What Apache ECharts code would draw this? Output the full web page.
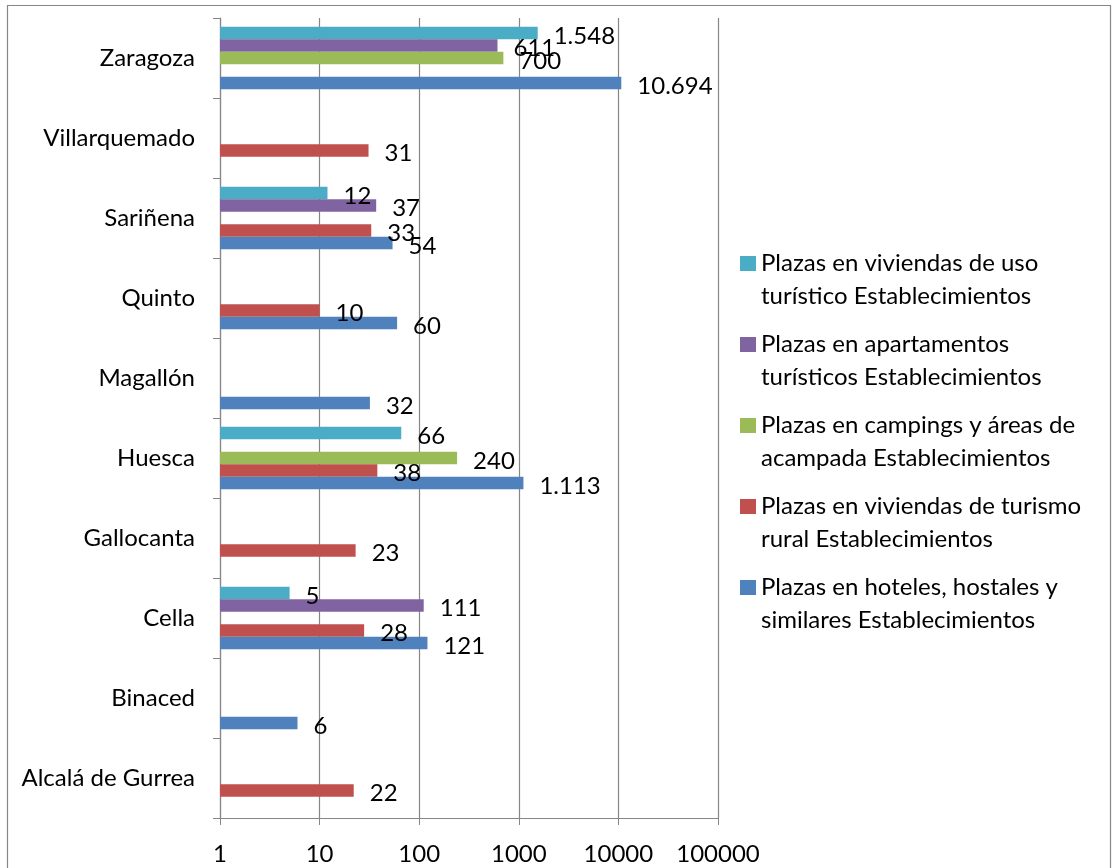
<!DOCTYPE html>
<html>
<head>
<meta charset="utf-8">
<script src="https://cdn.jsdelivr.net/npm/echarts@6/dist/echarts.min.js"></script>
<style>
html,body{margin:0;padding:0;background:#fff;}
#chart{width:1113px;height:868px;}
</style>
</head>
<body>
<div id="chart"></div>
<script>
const categories = ['Alcalá de Gurrea','Binaced','Cella','Gallocanta','Huesca','Magallón','Quinto','Sariñena','Villarquemado','Zaragoza'];
const seriesNames = [
  'Plazas en viviendas de uso turístico Establecimientos',
  'Plazas en apartamentos turísticos Establecimientos',
  'Plazas en campings y áreas de acampada Establecimientos',
  'Plazas en viviendas de turismo rural Establecimientos',
  'Plazas en hoteles, hostales y similares Establecimientos'
];
const legendLines = [
  'Plazas en viviendas de uso\nturístico Establecimientos',
  'Plazas en apartamentos\nturísticos Establecimientos',
  'Plazas en campings y áreas de\nacampada Establecimientos',
  'Plazas en viviendas de turismo\nrural Establecimientos',
  'Plazas en hoteles, hostales y\nsimilares Establecimientos'
];
const viviendas    = [null, null, 5, null, 66, null, null, 12, null, 1548];
const apartamentos = [null, null, 111, null, null, null, null, 37, null, 611];
const campings     = [null, null, null, null, 240, null, null, null, null, 700];
const rural        = [22, null, 28, 23, 38, null, 10, 33, 31, null];
const hoteles      = [null, 6, 121, null, 1113, 32, 60, 54, null, 10694];
const xTickLabels = ['1','10','100','1000','10000','100000'];

const seriesData = [viviendas, apartamentos, campings, rural, hoteles];
const colors = ['#4BACC6','#8064A2','#9BBB59','#C0504D','#4F81BD'];
const FONT = 'Lato';
const FS = 24;

function fmtEs(v){
  const s = String(Math.round(v));
  return s.replace(/\B(?=(\d{3})+(?!\d))/g, '.');
}

const chart = echarts.init(document.getElementById('chart'));
chart.setOption({
  animation:false,
  textStyle:{fontFamily:FONT},
  graphic:[{type:'rect', shape:{x:7.5,y:5.5,width:1103,height:900}, style:{fill:'none',stroke:'#868686',lineWidth:1.2}, silent:true}],
  grid:{left:220, top:18, width:498, height:800},
  legend:{
    orient:'vertical', left:740, top:214, padding:0,
    data:seriesNames.slice(),
    itemWidth:16, itemHeight:15, itemGap:-18,
    icon:'rect',
    formatter:function(name){ return '\n' + legendLines[seriesNames.indexOf(name)]; },
    textStyle:{fontFamily:FONT, fontSize:FS, color:'#000', lineHeight:33}
  },
  xAxis:{
    type:'log', logBase:10, min:1, max:100000, interval:1,
    axisLine:{show:true, lineStyle:{color:'#868686', width:1.2}},
    axisTick:{show:true, length:7, lineStyle:{color:'#868686'}},
    splitLine:{show:true, lineStyle:{color:'#868686', width:1.2}},
    axisLabel:{margin:24, fontSize:FS, color:'#000', fontFamily:FONT,
      formatter:function(v){ const i = Math.round(Math.log10(v)); return xTickLabels[i] || ''; }}
  },
  yAxis:{
    type:'category', data:categories,
    axisLine:{show:true, lineStyle:{color:'#868686', width:1.2}},
    axisTick:{show:true, length:7, interval:0, lineStyle:{color:'#868686'}},
    axisLabel:{margin:25, fontSize:FS, color:'#000', fontFamily:FONT, interval:0}
  },
  series: seriesData.map(function(d,i){
    return {
      type:'bar', name:seriesNames[i], data:d,
      barGap:'0%', barCategoryGap:'22%',
      itemStyle:{color:colors[i]},
      label:{show:true, position:'right', distance:16, offset:[0,3], fontSize:FS, color:'#000', fontFamily:FONT,
        formatter:function(p){ return fmtEs(p.value); }}
    };
  })
});
</script>
</body>
</html>
